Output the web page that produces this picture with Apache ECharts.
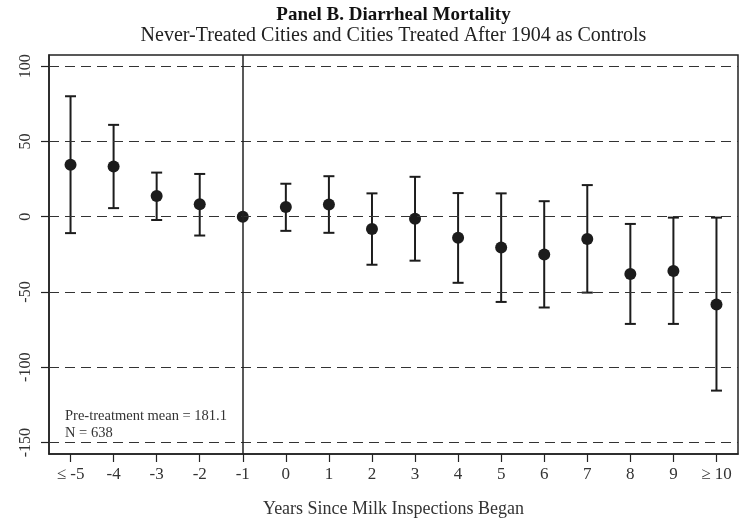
<!DOCTYPE html>
<html>
<head>
<meta charset="utf-8">
<script src="https://cdn.jsdelivr.net/npm/echarts@6/dist/echarts.min.js"></script>
<style>
  html, body { margin: 0; padding: 0; background: #fff; }
  #chart { width: 751px; height: 523px; }
</style>
</head>
<body>
<div id="chart"></div>
<script>
// Event-study estimates: diarrheal mortality relative to the year before milk inspections
const years = ['≤ -5', '-4', '-3', '-2', '-1', '0', '1', '2', '3', '4', '5', '6', '7', '8', '9', '≥ 10'];
const estimates = [34.5, 33.4, 13.8, 8.3, 0, 6.4, 8.1, -8.1, -1.3, -14.0, -20.5, -25.1, -14.8, -38.0, -36.0, -58.3];
const ciUpper = [80.0, 61.0, 29.3, 28.4, null, 21.9, 26.9, 15.5, 26.5, 15.7, 15.5, 10.3, 21.0, -4.8, -0.6, -0.6];
const ciLower = [-10.9, 5.7, -2.2, -12.5, null, -9.4, -10.7, -31.9, -29.2, -43.9, -56.6, -60.3, -50.4, -71.2, -71.2, -115.5];
const yTicks = [-150, -100, -50, 0, 50, 100];
const referenceYear = '-1';

const ink = '#1c1c1c';
const serif = '"Liberation Serif", "DejaVu Serif", serif';

const grid = { left: 49, right: 13, top: 55, bottom: 65 };
const plotCenterX = grid.left + (751 - grid.left - grid.right) / 2;

const ciData = years.map((y, i) => [i, ciLower[i], ciUpper[i]]).filter(d => d[1] !== null);

const chart = echarts.init(document.getElementById('chart'), null, { renderer: 'canvas' });

chart.setOption({
  animation: false,
  backgroundColor: '#ffffff',
  grid: Object.assign({ show: true, borderColor: '#222', borderWidth: 1.5, backgroundColor: '#fff' }, grid),
  xAxis: {
    type: 'category',
    data: years,
    boundaryGap: true,
    name: 'Years Since Milk Inspections Began',
    nameLocation: 'middle',
    nameGap: 46,
    nameTextStyle: { fontFamily: serif, fontSize: 18, color: '#333' },
    axisLine: { show: true, onZero: false, lineStyle: { color: '#222', width: 1.5 } },
    axisTick: { show: true, alignWithLabel: true, length: 8, lineStyle: { color: '#222', width: 1.2 } },
    axisLabel: { fontFamily: serif, fontSize: 17, color: '#333', margin: 12, interval: 0 },
    splitLine: { show: false }
  },
  yAxis: {
    type: 'value',
    min: -157.6,
    max: 107.4,
    axisLine: { show: true, onZero: false, lineStyle: { color: '#222', width: 1.5 } },
    axisTick: { show: true, length: 8, customValues: yTicks, lineStyle: { color: '#222', width: 1.2 } },
    axisLabel: { fontFamily: serif, fontSize: 16, color: '#333', rotate: 90, margin: 15, customValues: yTicks },
    splitLine: { show: false }
  },
  graphic: [
    {
      type: 'text', x: plotCenterX, y: 6,
      style: { text: 'Panel B. Diarrheal Mortality', font: 'bold 19px ' + serif, fill: '#111', align: 'center', verticalAlign: 'top' }
    },
    {
      type: 'text', x: plotCenterX, y: 26,
      style: { text: 'Never-Treated Cities and Cities Treated After 1904 as Controls', font: '20px ' + serif, fill: '#222', align: 'center', verticalAlign: 'top' }
    },
    {
      type: 'text', left: 65, top: 408,
      style: { text: 'Pre-treatment mean = 181.1\nN = 638', font: '14.5px ' + serif, fill: '#333', lineHeight: 17 }
    }
  ],
  series: [
    {
      // dashed reference lines at every labelled y value, plus the solid line at t = -1
      type: 'line',
      data: [],
      silent: true,
      markLine: {
        symbol: 'none',
        silent: true,
        label: { show: false },
        data: yTicks.map(v => ({ yAxis: v, lineStyle: { type: [10, 6], color: '#333', width: 1.2 } }))
          .concat([{ xAxis: referenceYear, lineStyle: { type: 'solid', color: '#222', width: 1.5 } }])
      }
    },
    {
      // 95% confidence intervals with end caps
      type: 'custom',
      data: ciData,
      z: 3,
      renderItem: function (params, api) {
        const x = api.value(0);
        const lo = api.coord([x, api.value(1)]);
        const hi = api.coord([x, api.value(2)]);
        const half = 5.5;
        const style = { stroke: ink, lineWidth: 2 };
        return {
          type: 'group',
          children: [
            { type: 'line', shape: { x1: hi[0], y1: hi[1], x2: lo[0], y2: lo[1] }, style: style },
            { type: 'line', shape: { x1: hi[0] - half, y1: hi[1], x2: hi[0] + half, y2: hi[1] }, style: style },
            { type: 'line', shape: { x1: lo[0] - half, y1: lo[1], x2: lo[0] + half, y2: lo[1] }, style: style }
          ]
        };
      }
    },
    {
      type: 'scatter',
      data: estimates,
      symbol: 'circle',
      symbolSize: 12,
      z: 4,
      itemStyle: { color: ink, opacity: 1 }
    }
  ]
});
</script>
</body>
</html>
